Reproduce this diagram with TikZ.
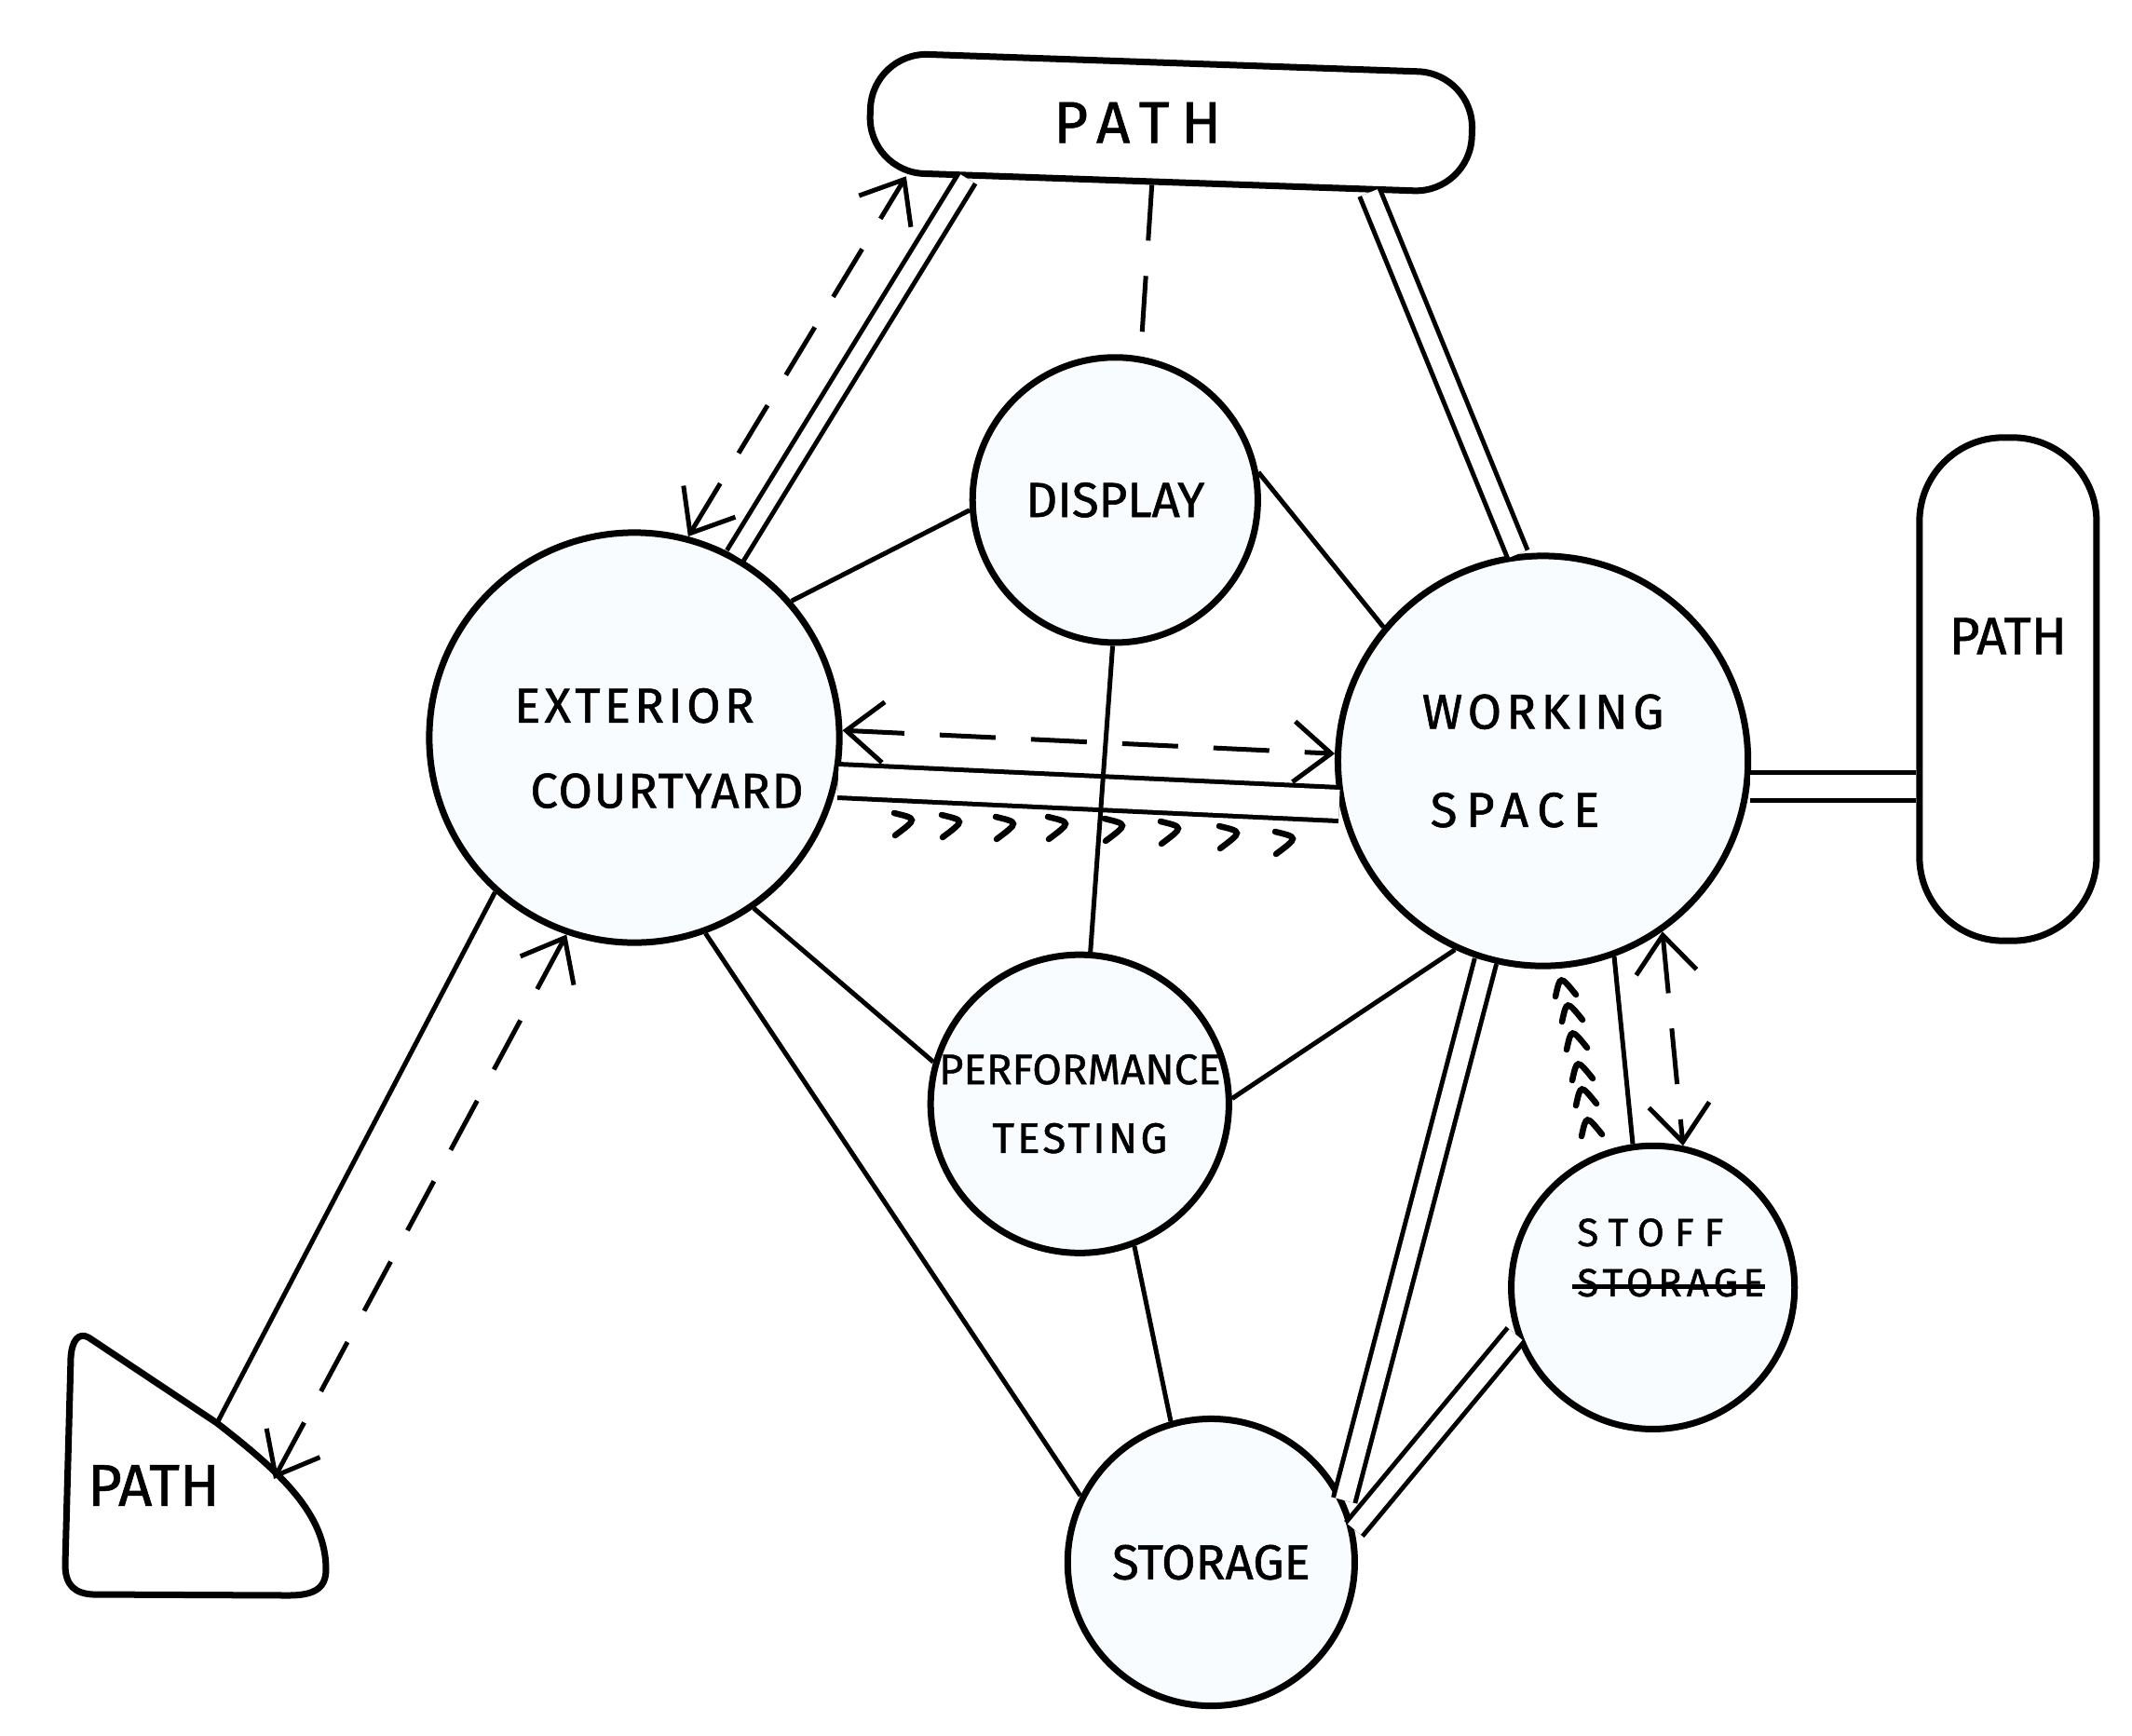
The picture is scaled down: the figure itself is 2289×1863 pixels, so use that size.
\documentclass[tikz,border=0pt]{standalone}
\usepackage{fontspec}
\setmainfont{Fira Sans}[FakeBold=1]
\usetikzlibrary{positioning,calc,arrows.meta}
\definecolor{roomfill}{RGB}{249,252,254}
\newcommand{\spaced}[1]{\addfontfeature{LetterSpace=#1}}
\tikzset{
    room/.style = {draw, circle, line width=0.7mm, fill=roomfill, inner sep=0pt,
                 align=center, font=\fontsize{15}{18}\selectfont},
    pathbox/.style = {draw, rounded corners=#1, line width=0.7mm, fill=white},
    pathbox/.default = 0.6cm,
    lbl/.style = {inner sep=0pt, align=center},
    link/.style = {line width=0.5mm},
    twin/.style = {line width=0.5mm, double, double distance=#1},
    trail/.style = {line width=0.5mm, dash pattern=on 0.6cm off 0.38cm},
    walk/.style = {trail, {Straight Barb[length=4mm,width=6.5mm]}-{Straight Barb[length=4mm,width=6.5mm]}},
    chev/.style = {line width=0.65mm, line cap=round},
}

\begin{document}
\begin{tikzpicture}[x=0.01cm, y=-0.01cm, on grid]
\useasboundingbox (0,0) rectangle (2289,1863);

% rooms
\node (ext)   [room, minimum size=4.4cm] at (681,792)
  {\rule{0pt}{17pt}{\spaced{8}EXTERIOR}\\[8pt]\hspace*{0.7cm}{\spaced{3}COURTYARD}};
\node (ws)    [room, minimum size=4.4cm, below right=0.25cm and 9.75cm of ext]
  {{\spaced{10}WORKING}\\[12pt]{\spaced{18}SPACE}\hspace*{0.6cm}};
\node (disp)  [room, minimum size=3.06cm, above right=2.55cm and 5.16cm of ext] {DISPLAY};
\node (perf)  [room, minimum size=3.02cm, font=\fontsize{13}{15}\selectfont,
               below right=3.93cm and 4.78cm of ext] {PERFORMANCE\\[6pt]{\spaced{7}TESTING}};
\node (staff) [room, minimum size=3.04cm, below right=5.65cm and 1.18cm of ws] {};
\node (stor)  [room, minimum size=3.08cm, below left=8.6cm and 3.56cm of ws] {STORAGE};

% paths
\node (tpath) [pathbox, rotate=-2, minimum width=6.46cm, minimum height=1.28cm,
               above right=4.05cm and 0.6cm of disp] {};
\node (rpath) [pathbox=0.9cm, minimum width=1.9cm, minimum height=5.4cm,
               above right=0.77cm and 4.99cm of ws] {};
\draw[line width=0.7mm, fill=white, line join=round]
  (95,1436) -- (233,1528) .. controls (300,1580) and (350,1625) .. (350,1685)
  .. controls (350,1705) and (338,1713) .. (310,1713) -- (100,1712)
  .. controls (80,1711) and (70,1702) .. (70,1680) -- (76,1458)
  .. controls (77,1440) and (84,1430) .. (95,1436) -- cycle;
\coordinate (blin) at (233,1528);
\coordinate (blend) at (294,1588);

% labels
\node (tpathtxt) [lbl, font=\fontsize{18}{20}\selectfont, left=0.36cm of tpath] {\spaced{20}PATH};
\node (rpathtxt) [lbl, font=\fontsize{16}{18}\selectfont, above=0.57cm of rpath] {PATH};
\node (blpath)   [lbl, font=\fontsize{18}{20}\selectfont] at (165,1595) {PATH};
\node (staffnew) [lbl, anchor=west, font=\fontsize{12}{15}\selectfont] at ($(staff)+(-82,-59)$) {\spaced{26}STOFF};
\node (staffold) [lbl, anchor=west, font=\fontsize{12}{15}\selectfont] at ($(staff)+(-82,-5)$) {\spaced{12}STORAGE};
\draw[link] ([xshift=-0.5mm,yshift=-0.4mm]staffold.west) -- ([yshift=-0.4mm]staffold.east);

% double lines
\draw[twin=0.16cm] (ext.61) -- ($(tpath.south west)!0.168!(tpath.south east)$);
\draw[twin=0.18cm] (ws.97) -- ($(tpath.south west)!0.83!(tpath.south east)$);
\draw[twin=0.31cm] (ext.-12) -- (ws.192);
\draw[twin=0.25cm] (ws.-7) -- (ws.-7 -| rpath.west);
\draw[twin=0.19cm] (ws.254) -- (stor.25);
\draw[twin=0.18cm] (staff.199) -- (stor.13.5);

% single lines
\draw[link] (disp.184.7) -- (ext.41);
\draw[link] (disp.11.8) -- (ws.140.4);
\draw[link] (disp.269) -- (perf.86);
\draw[link] (ext.-55) -- (perf.164.8);
\draw[link] (perf.2) -- (ws.245.4);
\draw[link] (ext.-70.5) -- (stor.153.6);
\draw[link] (perf.-69.7) -- (stor.106.9);
\draw[link] (ws.-70.6) -- (staff.98);
\draw[link] (ext.228.5) -- (blin);

% dashed
\draw[trail] ($(tpath.south west)!0.472!(tpath.south east)$) -- (disp.80.9);
\draw[walk] (ext.75) -- ($(tpath.south west)!0.068!(tpath.south east)$);
\draw[walk] (ext.2.2) -- (ws.178);
\draw[walk] (ws.-55.7) -- (staff.78.6);
\draw[walk] (ext.251) -- (blend);

% marks
\foreach \cx/\cy in {970/884, 1021/886, 1079/888, 1135/888, 1196/890, 1256/893, 1319/898, 1379/904}
  \draw[chev, shift={(\cx,\cy)}] (-10,-11) .. controls (15,-5) .. (-9,13);
\foreach \cx/\cy in {1680/1060, 1687/1087, 1692/1117, 1698/1150, 1702/1177, 1708/1210}
  \draw[chev, shift={(\cx,\cy)}, rotate=90] (-10,-10) .. controls (13,-5) .. (-8,12);
\end{tikzpicture}
\end{document}
